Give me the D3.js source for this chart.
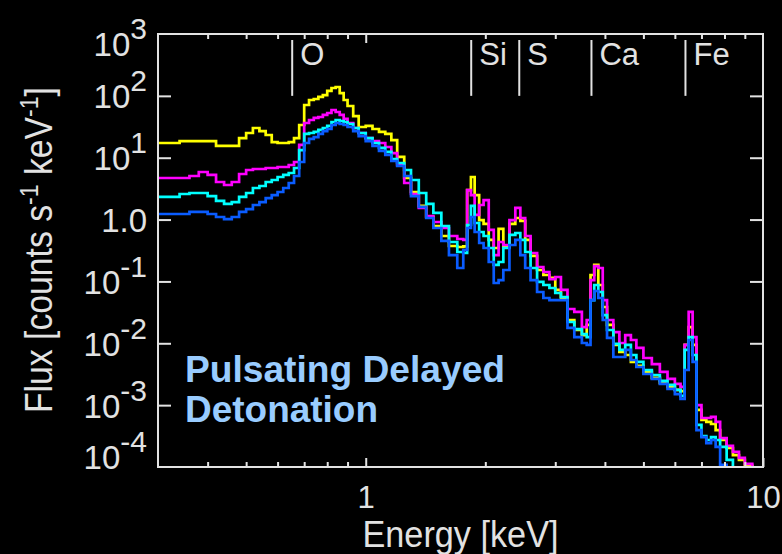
<!DOCTYPE html>
<html>
<head>
<meta charset="utf-8">
<script src="https://cdn.jsdelivr.net/npm/d3@7"></script>
<style>
  html, body { margin: 0; padding: 0; background: #000; }
  svg { display: block; }
  text { font-family: "Liberation Sans", Arial, Helvetica, sans-serif; }
</style>
</head>
<body>
<div id="chart"></div>
<script>
// Energy grid (keV) shared by all four model spectra
const energy = [
  0.30, 0.32, 0.34, 0.36, 0.38, 0.40, 0.42, 0.44, 0.46, 0.48,
  0.50, 0.52, 0.54, 0.56, 0.58, 0.60, 0.62, 0.64, 0.66, 0.68,
  0.70, 0.72, 0.74, 0.76, 0.78, 0.80, 0.82, 0.84, 0.86, 0.88,
  0.90, 0.93, 0.96, 1.00, 1.04, 1.08, 1.12, 1.16, 1.20, 1.25,
  1.30, 1.36, 1.42, 1.48, 1.55, 1.62, 1.70, 1.76, 1.80, 1.84,
  1.88, 1.93, 1.98, 2.04, 2.10, 2.16, 2.22, 2.30, 2.38, 2.45,
  2.52, 2.60, 2.70, 2.80, 2.90, 3.00, 3.10, 3.22, 3.35, 3.50,
  3.60, 3.68, 3.76, 3.85, 3.95, 4.05, 4.20, 4.35, 4.50, 4.65,
  4.80, 5.00, 5.25, 5.50, 5.75, 6.00, 6.20, 6.35, 6.50, 6.65,
  6.80, 7.00, 7.20, 7.40, 7.60, 7.80, 8.10, 8.40, 8.70, 9.00,
  9.40
];

// Flux [counts s^-1 keV^-1]
const fluxYellow = [
  17.3, 17.3, 18.6, 18.6, 18.6, 18.6, 15.5, 15.5, 15.5, 20.8,
  25.1, 30.2, 27.0, 23.3, 17.9, 17.3, 17.3, 17.9, 20.8, 33.8,
  71.1, 85.7, 89, 96, 103, 120, 134, 139, 111, 85.7,
  68.5, 47.2, 31.4, 32.6, 29.1, 26.1, 24.2, 19.3, 10.3, 4.70,
  2.79, 1.66, 1.10, 0.787, 0.543, 0.374, 0.360, 0.37, 3.0, 4.88,
  2.49, 0.98, 0.85, 0.468, 0.347, 0.705, 0.360, 0.85, 1.06, 0.95,
  0.468, 0.258, 0.153, 0.127, 0.114, 0.0728, 0.054, 0.0238, 0.0164, 0.0136,
  0.0198, 0.127, 0.185, 0.0875, 0.0386, 0.0198, 0.0094, 0.00723, 0.00647, 0.00499,
  0.0043, 0.00344, 0.00275, 0.00228, 0.00197, 0.00176, 0.00169, 0.0094, 0.0183, 0.0094,
  0.00084, 0.000575, 0.000535, 0.000496, 0.000396, 0.000273, 0.000203, 0.000156, 0.00013, 0.000104,
  0.00008
];
const fluxMagenta = [
  4.70, 4.70, 4.70, 5.06, 5.88, 5.26, 4.05, 3.62, 4.05, 5.45,
  6.33, 6.57, 6.57, 6.82, 6.82, 7.08, 7.08, 7.63, 8.53, 16.1,
  36.4, 40.7, 43.9, 45.5, 49.1, 52.8, 59.1, 54.8, 49.1, 42.3,
  36.4, 30.2, 25.1, 20.8, 18.6, 17.3, 14.9, 11.9, 7.63, 3.90,
  2.59, 1.54, 1.14, 0.914, 0.731, 0.543, 0.485, 0.468, 3.0, 2.49,
  1.19, 1.72, 2.07, 0.679, 0.267, 0.434, 0.388, 0.98, 1.54, 1.06,
  0.543, 0.288, 0.171, 0.142, 0.109, 0.118, 0.0728, 0.0358, 0.0321, 0.0183,
  0.0238, 0.105, 0.177, 0.165, 0.050, 0.0238, 0.0152, 0.0101, 0.0136, 0.0113,
  0.0084, 0.00578, 0.00462, 0.00344, 0.00265, 0.0022, 0.00197, 0.0094, 0.0321, 0.0126,
  0.001, 0.00062, 0.00062, 0.000644, 0.000535, 0.000294, 0.000219, 0.000175, 0.00014, 0.000112,
  0.00008
];
const fluxCyan = [
  2.32, 2.32, 2.59, 2.69, 2.69, 2.40, 2.0, 1.79, 1.92, 2.32,
  2.69, 3.24, 3.49, 4.05, 4.36, 4.88, 5.26, 5.66, 6.82, 13.3,
  24.2, 25.1, 26.1, 28.1, 30.2, 32.6, 37.8, 40.7, 39.2, 37.8,
  35.1, 30.2, 25.1, 20.8, 17.3, 14.4, 12.4, 9.53, 8.22, 6.33,
  4.36, 2.69, 1.79, 1.28, 0.787, 0.434, 0.299, 0.288, 0.817, 1.66,
  0.88, 0.63, 0.543, 0.347, 0.185, 0.206, 0.347, 0.564, 0.607, 0.468,
  0.299, 0.165, 0.098, 0.0875, 0.0783, 0.065, 0.056, 0.0221, 0.017, 0.0141,
  0.0126, 0.050, 0.0875, 0.0675, 0.0286, 0.0164, 0.00975, 0.0078, 0.0094, 0.00647,
  0.00499, 0.0037, 0.00307, 0.00246, 0.00212, 0.00176, 0.00141, 0.0078, 0.0126, 0.00647,
  0.000478, 0.000317, 0.000273, 0.000305, 0.000273, 0.000211, 0.00013, 0.00009, 0.00007, 0.00006,
  0.00005
];
const fluxBlue = [
  1.23, 1.23, 1.23, 1.33, 1.33, 1.23, 1.10, 1.02, 1.10, 1.33,
  1.48, 1.72, 1.92, 2.23, 2.49, 2.79, 3.24, 3.90, 5.06, 8.53,
  17.3, 20.1, 21.6, 24.2, 27.0, 29.1, 33.8, 36.4, 35.1, 33.8,
  31.4, 27.0, 22.4, 18.6, 15.5, 12.9, 11.1, 8.85, 7.35, 5.06,
  2.40, 1.60, 1.06, 0.731, 0.451, 0.267, 0.165, 0.322, 0.731, 1.10,
  0.63, 0.418, 0.347, 0.206, 0.0944, 0.105, 0.153, 0.388, 0.468, 0.267,
  0.165, 0.105, 0.0675, 0.054, 0.050, 0.050, 0.050, 0.0177, 0.0126, 0.0101,
  0.0094, 0.050, 0.070, 0.054, 0.0238, 0.0122, 0.006, 0.006, 0.0078, 0.00537,
  0.00414, 0.00319, 0.00265, 0.0022, 0.00183, 0.00151, 0.00126, 0.0037, 0.0113, 0.00499,
  0.000396, 0.000305, 0.000244, 0.000273, 0.000211, 0.000108, 0.00007, 0.00005, 0.00004, 0.00003,
  0.00002
];

const seriesColors = ["#ffff00", "#ff00ff", "#00ffff", "#0a5cff"];

// Emission line markers
const lineNames = ["O", "Si", "S", "Ca", "Fe"];
const lineEnergies = [0.653, 1.843, 2.435, 3.70, 6.38];

// Axis ticks and labels
const xMajorTicks = [1, 10];
const xMajorLabels = ["1", "10"];
const xMinorTicks = [0.4, 0.5, 0.6, 0.7, 0.8, 0.9, 2, 3, 4, 5, 6, 7, 8, 9];
const yTicks = [1e3, 1e2, 1e1, 1, 1e-1, 1e-2, 1e-3, 1e-4];
const yTickBase = ["10", "10", "10", "1.0", "10", "10", "10", "10"];
const yTickSup = ["3", "2", "1", "", "-1", "-2", "-3", "-4"];

const W = 782, H = 554;
const plot = { left: 158, top: 34, right: 763, bottom: 467 };
const axisColor = "#e2e2e2";

const svg = d3.select("#chart").append("svg")
  .attr("width", W).attr("height", H)
  .style("background", "#000");

const x = d3.scaleLog().domain([0.3, 10]).range([plot.left, plot.right]);
const y = d3.scaleLog().domain([1e-4, 1e3]).range([plot.bottom, plot.top]);

svg.append("clipPath").attr("id", "clip")
  .append("rect")
  .attr("x", plot.left).attr("y", plot.top)
  .attr("width", plot.right - plot.left).attr("height", plot.bottom - plot.top);

// Spectra as step histograms
const series = [fluxYellow, fluxMagenta, fluxCyan, fluxBlue];
const line = d3.line()
  .x(d => x(d[0]))
  .y(d => y(d[1]))
  .curve(d3.curveStepAfter);

const gLines = svg.append("g").attr("clip-path", "url(#clip)");
series.forEach((flux, i) => {
  gLines.append("path")
    .datum(energy.map((e, j) => [e, flux[j]]))
    .attr("d", line)
    .attr("fill", "none")
    .attr("stroke", seriesColors[i])
    .attr("stroke-width", 2.7)
    .attr("stroke-linejoin", "miter");
});

// Axes (ticks pointing inward)
function styleAxis(g) {
  g.select(".domain").remove();
  g.selectAll(".tick line").attr("stroke", axisColor).attr("stroke-width", 2);
}

svg.append("g")
  .attr("transform", `translate(0,${plot.bottom})`)
  .call(d3.axisBottom(x).tickValues(xMinorTicks).tickSize(-5).tickFormat(""))
  .call(styleAxis);
svg.append("g")
  .attr("transform", `translate(0,${plot.top})`)
  .call(d3.axisTop(x).tickValues(xMinorTicks).tickSize(-5).tickFormat(""))
  .call(styleAxis);
svg.append("g")
  .attr("transform", `translate(0,${plot.top})`)
  .call(d3.axisTop(x).tickValues([1]).tickSize(-9).tickFormat(""))
  .call(styleAxis);

const xAxis = svg.append("g")
  .attr("transform", `translate(0,${plot.bottom})`)
  .call(d3.axisBottom(x).tickValues(xMajorTicks).tickSize(-9).tickPadding(0)
    .tickFormat((d, i) => xMajorLabels[i]))
  .call(styleAxis);
xAxis.selectAll(".tick text")
  .attr("y", 41).attr("dy", null)
  .attr("fill", axisColor)
  .attr("font-size", 31);

const innerY = yTicks.slice(1, -1);
svg.append("g")
  .attr("transform", `translate(${plot.right},0)`)
  .call(d3.axisRight(y).tickValues(innerY).tickSize(-13).tickFormat(""))
  .call(styleAxis);

const yAxis = svg.append("g")
  .attr("transform", `translate(${plot.left},0)`)
  .call(d3.axisLeft(y).tickValues(yTicks).tickSize(-13).tickPadding(11))
  .call(styleAxis);
yAxis.selectAll(".tick line").filter(d => d === 1e3 || d === 1e-4).remove();
yAxis.selectAll(".tick text").each(function (d, i) {
  const t = d3.select(this);
  const off = i === 0 ? 21 : (i === yTicks.length - 1 ? 1 : 12);
  t.text("").attr("dy", null).attr("y", off)
    .attr("fill", axisColor).attr("font-size", 33);
  t.append("tspan").text(yTickBase[i]);
  if (yTickSup[i]) {
    t.append("tspan").attr("dy", -17).attr("font-size", 30).text(yTickSup[i]);
  }
});

// Frame
svg.append("rect")
  .attr("x", plot.left).attr("y", plot.top)
  .attr("width", plot.right - plot.left).attr("height", plot.bottom - plot.top)
  .attr("fill", "none").attr("stroke", axisColor).attr("stroke-width", 2);

// Line identifications
lineEnergies.forEach((e, i) => {
  svg.append("line")
    .attr("x1", x(e)).attr("x2", x(e))
    .attr("y1", plot.top + 6).attr("y2", y(100))
    .attr("stroke", axisColor).attr("stroke-width", 2);
  svg.append("text")
    .attr("x", x(e) + 8).attr("y", 65)
    .attr("fill", axisColor)
    .attr("font-size", 31)
    .text(lineNames[i]);
});

// Axis titles
svg.append("text")
  .attr("x", (plot.left + plot.right) / 2).attr("y", 547)
  .attr("text-anchor", "middle")
  .attr("fill", axisColor)
  .attr("font-size", 37)
  .attr("textLength", 196).attr("lengthAdjust", "spacingAndGlyphs")
  .text("Energy [keV]");

const yTitle = svg.append("text")
  .attr("transform", "translate(52,250) rotate(-90)")
  .attr("text-anchor", "middle")
  .attr("fill", axisColor)
  .attr("font-size", 38)
  .attr("textLength", 326).attr("lengthAdjust", "spacingAndGlyphs");
yTitle.append("tspan").text("Flux [counts s");
yTitle.append("tspan").attr("dy", -14).attr("font-size", 26).text("-1");
yTitle.append("tspan").attr("dy", 14).text(" keV");
yTitle.append("tspan").attr("dy", -14).attr("font-size", 26).text("-1");
yTitle.append("tspan").attr("dy", 14).text("]");

// Model annotation
const note = svg.append("g")
  .attr("fill", "#99ccff")
  .attr("font-size", 36)
  .attr("font-weight", "bold");
note.append("text").attr("x", 185).attr("y", 382)
  .attr("textLength", 320).attr("lengthAdjust", "spacingAndGlyphs")
  .text("Pulsating Delayed");
note.append("text").attr("x", 185).attr("y", 422)
  .attr("textLength", 193).attr("lengthAdjust", "spacingAndGlyphs")
  .text("Detonation");
</script>
</body>
</html>
